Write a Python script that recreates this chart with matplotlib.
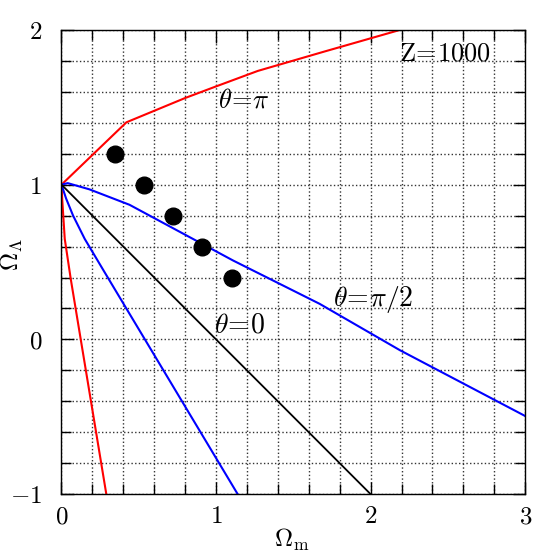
import matplotlib
matplotlib.use('Agg')
import matplotlib.pyplot as plt
import numpy as np

plt.rcParams['mathtext.fontset'] = 'cm'
plt.rcParams['font.family'] = 'serif'
plt.rcParams['font.serif'] = ['DejaVu Serif']

# curves
red_hi_x = [0, 0.42, 0.80, 1.00, 1.27, 1.70, 2.19]
red_hi_y = [1, 1.403, 1.56, 1.635, 1.735, 1.86, 2.0]
red_lo_x = [0, 0.005, 0.021, 0.06, 0.29]
red_lo_y = [1, 0.90, 0.65, 0.39, -1.0]
blue_hi_x = [0, 0.04, 0.18, 0.44, 1.11, 1.67, 2.19, 3.0]
blue_hi_y = [1, 1.01, 0.97, 0.87, 0.51, 0.23, -0.07, -0.495]
blue_lo_x = [0, 0.03, 0.075, 0.15, 0.27, 1.14]
blue_lo_y = [1, 0.91, 0.80, 0.65, 0.449, -1.0]
black_x = [0, 2.0]
black_y = [1, -1.0]

dots_x = [0.344, 0.531, 0.72, 0.91, 1.10]
dots_y = [1.2, 1.0, 0.8, 0.6, 0.4]

xticks = [0, 1, 2, 3]
yticks = [-1, 0, 1, 2]

fig = plt.figure(figsize=(5.54, 5.54), dpi=100)
ax = fig.add_axes([0.111, 0.108, 0.837, 0.838])

ax.plot(red_hi_x, red_hi_y, color='red', lw=1.5)
ax.plot(red_lo_x, red_lo_y, color='red', lw=1.5)
ax.plot(blue_hi_x, blue_hi_y, color='blue', lw=1.5)
ax.plot(blue_lo_x, blue_lo_y, color='blue', lw=1.5)
ax.plot(black_x, black_y, color='black', lw=1.3)
ax.plot(dots_x, dots_y, 'o', color='black', ms=12, ls='none')

ax.text(1.18, 1.55, r'$\theta\!=\!\pi$', fontsize=19, ha='center', va='center')
ax.text(2.48, 1.85, r'$\mathrm{Z\!=\!1000}$', fontsize=19, ha='center', va='center')
ax.text(2.02, 0.26, r'$\theta\!=\!\pi/2$', fontsize=20, ha='center', va='center')
ax.text(1.155, 0.09, r'$\theta\!=\!0$', fontsize=20, ha='center', va='center')

ax.set_xlim(0, 3)
ax.set_ylim(-1, 2)
ax.set_xticks(xticks)
ax.set_yticks(yticks)
ax.set_xticklabels(['$%d$' % t for t in xticks], fontsize=18)
ax.set_yticklabels(['$%d$' % t for t in yticks], fontsize=18)
ax.set_xticks(np.arange(0, 3.01, 0.2), minor=True)
ax.set_yticks(np.arange(-1, 2.01, 0.2), minor=True)
ax.grid(True, which='both', ls=':', color='#333333', lw=1)
ax.tick_params(which='both', direction='in', top=True, right=True, width=1)
ax.tick_params(axis='x', which='major', length=9, pad=8)
ax.tick_params(axis='y', which='major', length=9, pad=14)
ax.tick_params(which='minor', length=7)
for s in ax.spines.values():
    s.set_linewidth(1)

ax.set_xlabel(r'$\Omega_{\rm m}$', fontsize=18)
ax.set_ylabel(r'$\Omega_\Lambda$', fontsize=18)
ax.xaxis.set_label_coords(0.497, -0.07)
ax.yaxis.set_label_coords(-0.078, 0.515)

fig.savefig('out.png', dpi=100)
